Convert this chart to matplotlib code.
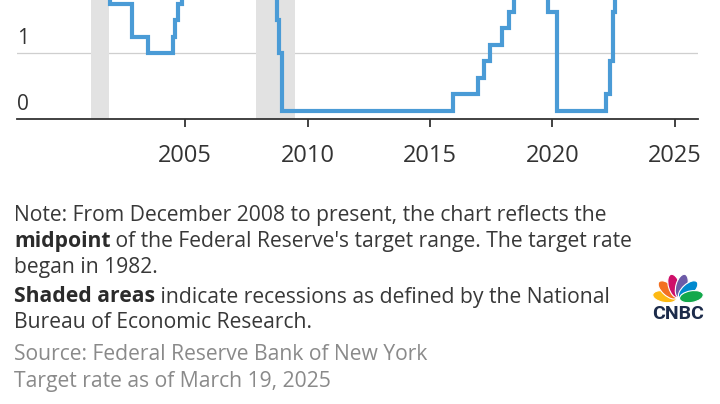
"""
Fed funds target rate, step chart (cropped lower part) with CNBC note block.
"""

import math
import datetime as dt
import matplotlib.pyplot as plt
import matplotlib.transforms as mtransforms
from matplotlib.patches import Ellipse

plt.rcParams['font.family'] = ['Open Sans', 'DejaVu Sans']

# --- Data ------------------------------------------------------------------
# change dates of the target rate (midpoint of range after Dec 2008)
change_dates = [
    '1998-01-01', '1998-09-29', '1998-10-15', '1998-11-17',
    '1999-06-30', '1999-08-24', '1999-11-16',
    '2000-02-02', '2000-03-21', '2000-05-16',
    '2001-01-03', '2001-01-31', '2001-03-20', '2001-04-18', '2001-05-15',
    '2001-06-27', '2001-08-21', '2001-09-17', '2001-10-02', '2001-11-06',
    '2001-12-11', '2002-11-06', '2003-06-25',
    '2004-06-30', '2004-08-10', '2004-09-21', '2004-11-10', '2004-12-14',
    '2005-02-02', '2005-03-22', '2005-05-03', '2005-06-30', '2005-08-09',
    '2005-09-20', '2005-11-01', '2005-12-13',
    '2006-01-31', '2006-03-28', '2006-05-10', '2006-06-29',
    '2007-09-18', '2007-10-31', '2007-12-11',
    '2008-01-22', '2008-01-30', '2008-03-18', '2008-04-30', '2008-10-08',
    '2008-10-29', '2008-12-16',
    '2015-12-16', '2016-12-14', '2017-03-15', '2017-06-14', '2017-12-13',
    '2018-03-21', '2018-06-13', '2018-09-26', '2018-12-19',
    '2019-07-31', '2019-09-18', '2019-10-30',
    '2020-03-03', '2020-03-15',
    '2022-03-16', '2022-05-04', '2022-06-15', '2022-07-27', '2022-09-21',
    '2022-11-02', '2022-12-14', '2023-02-01', '2023-03-22', '2023-05-03',
    '2023-07-26', '2024-09-18', '2024-11-07', '2024-12-18', '2025-03-19',
]
target_rate = [
    5.5, 5.25, 5.0, 4.75,
    5.0, 5.25, 5.5,
    5.75, 6.0, 6.5,
    6.0, 5.5, 5.0, 4.5, 4.0,
    3.75, 3.5, 3.0, 2.5, 2.0,
    1.75, 1.25, 1.0,
    1.25, 1.5, 1.75, 2.0, 2.25,
    2.5, 2.75, 3.0, 3.25, 3.5,
    3.75, 4.0, 4.25,
    4.5, 4.75, 5.0, 5.25,
    4.75, 4.5, 4.25,
    3.5, 3.0, 2.25, 2.0, 1.5,
    1.0, 0.125,
    0.375, 0.625, 0.875, 1.125, 1.375,
    1.625, 1.875, 2.125, 2.375,
    2.125, 1.875, 1.625,
    1.125, 0.125,
    0.375, 0.875, 1.625, 2.375, 3.125,
    3.875, 4.375, 4.625, 4.875, 5.125,
    5.375, 4.875, 4.625, 4.375, 4.375,
]

recessions = [('2001-03-01', '2001-11-30'), ('2007-12-01', '2009-06-30')]

year_ticks = [2005, 2010, 2015, 2020, 2025]
y_labels = [0, 1]

note_lines = [
    'Note: From December 2008 to present, the chart reflects the',
    ('midpoint', " of the Federal Reserve's target range. The target rate"),
    'began in 1982.',
    ('Shaded areas', ' indicate recessions as defined by the National'),
    'Bureau of Economic Research.',
]
source_lines = ['Source: Federal Reserve Bank of New York',
                'Target rate as of March 19, 2025']

peacock_colors = ['#FDB913', '#F37021', '#CE0F69', '#6C5BA7', '#0089CF', '#12A84B']


def d(s):
    return dt.datetime.strptime(s, '%Y-%m-%d')


# --- Plot ------------------------------------------------------------------
W, H = 720, 404
fig = plt.figure(figsize=(7.2, 4.04), dpi=100)
ax = fig.add_axes([17 / W, 1 - 119 / H, (698 - 17) / W, 119 / H])

x = [d(s) for s in change_dates]
ax.step(x, target_rate, where='post', color='#4A9BD6', linewidth=3,
        solid_joinstyle='miter', zorder=3)

for a, b in recessions:
    ax.axvspan(d(a), d(b), color='#E2E2E2', linewidth=0, zorder=1)

ax.set_xlim(dt.datetime(1998, 2, 20), dt.datetime(2025, 12, 10))
ax.set_ylim(0, 119 / 66)

ax.axhline(1, color='#CFCFCF', linewidth=0.9, zorder=0)
for s in ['top', 'right', 'left']:
    ax.spines[s].set_visible(False)
ax.spines['bottom'].set_color('#333333')
ax.spines['bottom'].set_linewidth(1.3)

ax.set_xticks([dt.datetime(y, 1, 1) for y in year_ticks])
ax.set_xticklabels([str(y) for y in year_ticks])
ax.tick_params(axis='x', length=6, width=1.3, color='#333333', pad=12,
               labelsize=17, labelcolor='#333333')
ax.set_yticks([])

trans = mtransforms.blended_transform_factory(ax.transAxes, ax.transData)
for v in y_labels:
    ax.text(0.0, v + 0.06, str(v), transform=trans, ha='left', va='bottom',
            fontsize=15, color='#333333')

# --- Notes -----------------------------------------------------------------
fs = 15.2
ys = [215, 242, 268, 297, 323]
for y, line in zip(ys, note_lines):
    if isinstance(line, tuple):
        t = fig.text(14 / W, 1 - y / H, line[0], fontsize=fs,
                     fontweight='bold', color='#2B2B2B', va='center')
        ax.annotate(line[1], xy=(1, 0), xycoords=t, va='bottom', ha='left',
                    fontsize=fs, color='#383838', annotation_clip=False)
    else:
        fig.text(14 / W, 1 - y / H, line, fontsize=fs, color='#383838',
                 va='center')

for y, line in zip([355, 382], source_lines):
    fig.text(14 / W, 1 - y / H, line, fontsize=fs, color='#8A8A8A',
             va='center')

# --- CNBC logo -------------------------------------------------------------
lax = fig.add_axes([646 / W, 1 - 320 / H, 64 / W, 48 / H])
lax.set_xlim(-1.6, 1.6)
lax.set_ylim(-1.1, 1.3)
lax.set_aspect('equal')
lax.axis('off')
angles = [170, 138, 106, 74, 42, 10]
for ang, col in zip(angles, peacock_colors):
    r = 0.68
    cx = r * math.cos(math.radians(ang))
    cy = -0.05 + r * math.sin(math.radians(ang))
    lax.add_patch(Ellipse((cx, cy), 1.2, 0.58, angle=ang, facecolor=col,
                          edgecolor='white', linewidth=0.8))
lax.text(0, -0.8, 'CNBC', ha='center', va='center', fontsize=14,
         fontweight='bold', color='#1C2B4A', family='Roboto')

fig.savefig('out.png', dpi=100)
